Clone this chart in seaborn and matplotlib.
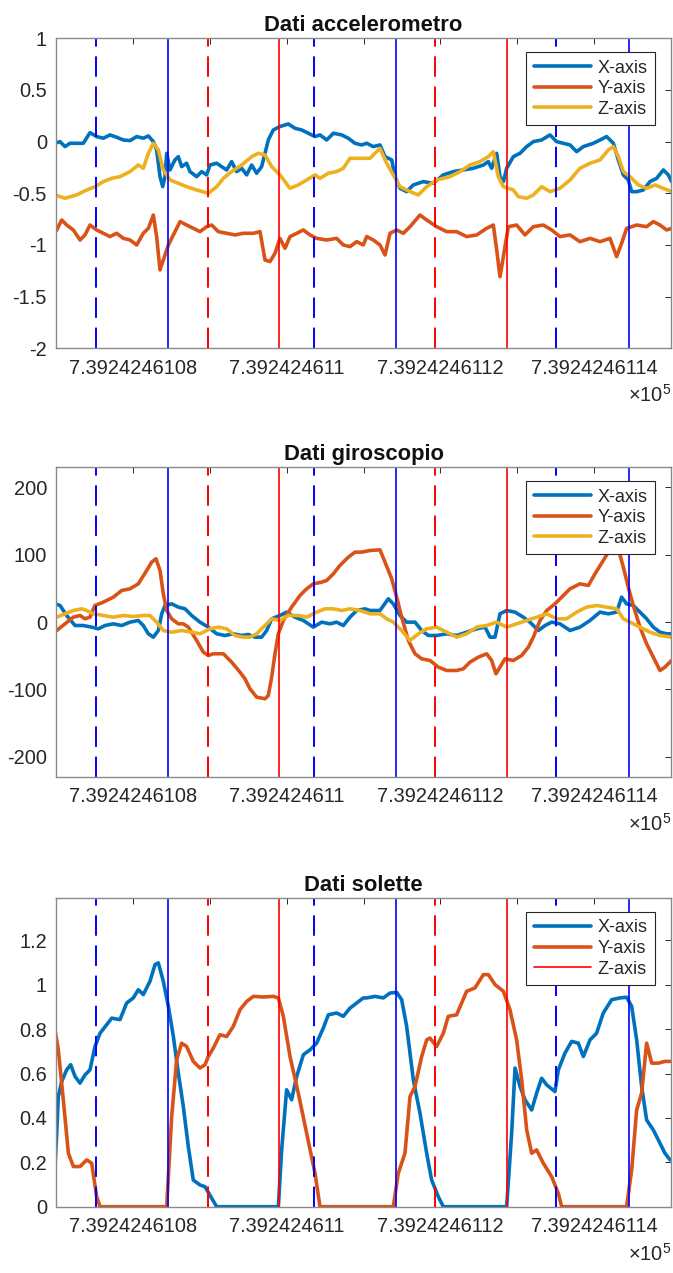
import numpy as np
import pandas as pd
import matplotlib
matplotlib.use("Agg")
import matplotlib.pyplot as plt
from matplotlib.lines import Line2D
import seaborn as sns

# ---------------------------------------------------------------------------
# Data: times are seconds after T0 (MATLAB datenum, days)
# ---------------------------------------------------------------------------
T0 = 739242.46107
SEC_PER_DAY = 86400.0
X_SPAN_S = 6.912

series_names = ["X-axis", "Y-axis", "Z-axis"]

# Accelerometer
acc_x_t = [-0.011, 0.045, 0.101, 0.157, 0.232, 0.307, 0.382, 0.457, 0.532, 0.607,
           0.682, 0.757, 0.832, 0.907, 0.981, 1.038, 1.094, 1.131, 1.169, 1.199,
           1.225, 1.244, 1.281, 1.337, 1.375, 1.412, 1.468, 1.506, 1.581, 1.637,
           1.693, 1.731, 1.806, 1.862, 1.918, 1.974, 2.030, 2.087, 2.143, 2.199,
           2.255, 2.311, 2.349, 2.386, 2.442, 2.517, 2.611, 2.686, 2.761, 2.836,
           2.911, 2.967, 3.042, 3.117, 3.210, 3.285, 3.360, 3.435, 3.492, 3.566,
           3.641, 3.698, 3.773, 3.810, 3.866, 3.941, 4.016, 4.128, 4.241, 4.353,
           4.466, 4.578, 4.690, 4.803, 4.859, 4.896, 4.953, 4.990, 5.028, 5.065,
           5.140, 5.215, 5.290, 5.365, 5.458, 5.552, 5.627, 5.702, 5.777, 5.852,
           5.927, 6.039, 6.114, 6.189, 6.264, 6.320, 6.376, 6.432, 6.470, 6.526,
           6.601, 6.676, 6.751, 6.826, 6.882, 6.919]
acc_x = [-0.016, 0.0, -0.048, -0.016, -0.016, -0.016, 0.087, 0.049, 0.033, 0.065,
         0.042, 0.016, 0.010, 0.049, 0.033, 0.055, 0.0, -0.080, -0.339, -0.435,
         -0.339, -0.113, -0.274, -0.177, -0.145, -0.242, -0.209, -0.290, -0.339, -0.290,
         -0.322, -0.226, -0.209, -0.242, -0.274, -0.193, -0.290, -0.258, -0.322, -0.226,
         -0.306, -0.242, -0.113, 0.016, 0.113, 0.146, 0.171, 0.129, 0.113, 0.081,
         0.049, 0.065, 0.016, 0.081, 0.065, 0.033, -0.016, -0.032, -0.016, -0.048,
         -0.032, -0.145, -0.177, -0.339, -0.451, -0.484, -0.419, -0.387, -0.403, -0.322,
         -0.290, -0.274, -0.258, -0.226, -0.193, -0.258, -0.113, -0.339, -0.387, -0.258,
         -0.145, -0.113, -0.048, 0.0, 0.016, 0.065, 0.0, -0.016, -0.032, -0.097,
         -0.048, -0.016, 0.016, 0.049, -0.016, -0.177, -0.322, -0.371, -0.484, -0.484,
         -0.468, -0.387, -0.355, -0.274, -0.322, -0.387]

acc_y_t = [-0.067, 0.008, 0.064, 0.120, 0.195, 0.270, 0.326, 0.382, 0.457, 0.532,
           0.607, 0.682, 0.757, 0.832, 0.907, 0.981, 1.038, 1.094, 1.131, 1.169,
           1.206, 1.263, 1.319, 1.394, 1.468, 1.543, 1.618, 1.693, 1.750, 1.824,
           1.918, 2.012, 2.105, 2.218, 2.293, 2.349, 2.405, 2.461, 2.517, 2.574,
           2.630, 2.705, 2.780, 2.855, 2.929, 3.042, 3.154, 3.229, 3.304, 3.379,
           3.454, 3.492, 3.566, 3.641, 3.698, 3.754, 3.829, 3.904, 3.979, 4.091,
           4.166, 4.278, 4.391, 4.503, 4.615, 4.728, 4.840, 4.915, 4.953, 4.990,
           5.028, 5.084, 5.177, 5.271, 5.365, 5.477, 5.571, 5.664, 5.777, 5.889,
           6.002, 6.114, 6.226, 6.301, 6.357, 6.413, 6.526, 6.638, 6.713, 6.788,
           6.863, 6.919]
acc_y = [-0.936, -0.855, -0.758, -0.807, -0.855, -0.952, -0.903, -0.807, -0.855, -0.887,
         -0.919, -0.887, -0.936, -0.952, -1.000, -0.887, -0.839, -0.710, -0.919, -1.242,
         -1.145, -1.000, -0.903, -0.774, -0.807, -0.839, -0.871, -0.823, -0.807, -0.871,
         -0.887, -0.903, -0.887, -0.887, -0.871, -1.145, -1.161, -1.081, -0.936, -1.032,
         -0.919, -0.887, -0.855, -0.903, -0.936, -0.952, -0.936, -1.000, -1.016, -0.968,
         -1.000, -0.919, -0.952, -1.000, -1.097, -0.887, -0.855, -0.887, -0.823, -0.710,
         -0.758, -0.823, -0.871, -0.871, -0.919, -0.903, -0.839, -0.807, -1.048, -1.307,
         -1.113, -0.823, -0.807, -0.903, -0.823, -0.807, -0.855, -0.919, -0.903, -0.968,
         -0.936, -0.968, -0.936, -1.113, -0.984, -0.839, -0.807, -0.823, -0.774, -0.807,
         -0.855, -0.839]

acc_z_t = [-0.067, -0.011, 0.101, 0.232, 0.345, 0.438, 0.532, 0.626, 0.719, 0.832,
           0.925, 0.981, 1.038, 1.094, 1.150, 1.206, 1.281, 1.375, 1.468, 1.581,
           1.712, 1.806, 1.881, 1.974, 2.087, 2.199, 2.274, 2.349, 2.424, 2.517,
           2.630, 2.723, 2.817, 2.911, 2.967, 3.061, 3.154, 3.229, 3.304, 3.416,
           3.529, 3.641, 3.716, 3.791, 3.866, 3.979, 4.072, 4.166, 4.278, 4.428,
           4.541, 4.653, 4.765, 4.859, 4.915, 4.971, 5.028, 5.140, 5.196, 5.290,
           5.365, 5.458, 5.552, 5.664, 5.777, 5.889, 6.002, 6.114, 6.208, 6.264,
           6.320, 6.376, 6.451, 6.545, 6.638, 6.732, 6.826, 6.919]
acc_z = [-0.436, -0.516, -0.548, -0.516, -0.468, -0.436, -0.387, -0.355, -0.339, -0.290,
         -0.226, -0.258, -0.113, -0.016, -0.080, -0.274, -0.371, -0.403, -0.436, -0.468,
         -0.500, -0.436, -0.355, -0.290, -0.226, -0.145, -0.113, -0.129, -0.242, -0.322,
         -0.452, -0.419, -0.371, -0.322, -0.355, -0.306, -0.290, -0.258, -0.161, -0.161,
         -0.161, -0.065, -0.209, -0.322, -0.436, -0.484, -0.516, -0.436, -0.371, -0.339,
         -0.290, -0.226, -0.193, -0.145, -0.097, -0.339, -0.436, -0.468, -0.532, -0.548,
         -0.516, -0.436, -0.484, -0.452, -0.371, -0.258, -0.209, -0.177, -0.080, -0.048,
         -0.145, -0.290, -0.339, -0.419, -0.452, -0.419, -0.452, -0.484]

# Gyroscope
gyr_x_t = [-0.067, -0.011, 0.045, 0.120, 0.214, 0.307, 0.401, 0.476, 0.551, 0.644,
           0.738, 0.832, 0.925, 0.981, 1.038, 1.094, 1.150, 1.188, 1.225, 1.300,
           1.375, 1.450, 1.525, 1.618, 1.712, 1.806, 1.899, 1.993, 2.087, 2.162,
           2.236, 2.311, 2.368, 2.424, 2.517, 2.592, 2.686, 2.780, 2.892, 2.986,
           3.079, 3.154, 3.229, 3.304, 3.379, 3.473, 3.529, 3.641, 3.735, 3.791,
           3.866, 3.941, 4.035, 4.110, 4.185, 4.278, 4.391, 4.503, 4.615, 4.728,
           4.822, 4.878, 4.934, 4.990, 5.065, 5.159, 5.252, 5.327, 5.421, 5.496,
           5.571, 5.664, 5.777, 5.889, 6.002, 6.114, 6.208, 6.301, 6.357, 6.413,
           6.488, 6.563, 6.638, 6.713, 6.788, 6.863, 6.919]
gyr_x = [19.8, 27.2, 24.8, 9.9, -5.0, -5.0, -7.4, -9.9, -5.0, -2.5,
         -5.0, 0.0, 2.5, -5.0, -17.3, -22.3, -12.4, 12.4, 24.8, 27.2,
         22.3, 19.8, 9.9, 0.0, -7.4, -17.3, -19.8, -17.3, -19.8, -18.3,
         -22.3, -22.3, -12.4, 5.0, 9.9, 14.9, 7.4, 2.5, -7.4, 0.0,
         -2.5, 0.0, -5.0, 7.4, 17.3, 19.8, 17.3, 17.3, 34.7, 27.2,
         9.9, 0.0, 0.0, -12.4, -19.8, -19.8, -17.3, -19.8, -14.9, -9.9,
         -7.4, -22.3, -22.3, 12.4, 17.3, 14.9, 7.4, 0.0, -12.4, -5.0,
         0.0, -2.5, -12.4, -7.4, 2.5, 14.9, 12.4, 14.9, 37.1, 27.2,
         24.8, 14.9, 5.0, -7.4, -14.9, -17.3, -17.3]

gyr_y_t = [-0.067, 0.008, 0.101, 0.195, 0.270, 0.326, 0.382, 0.438, 0.532, 0.644,
           0.738, 0.832, 0.925, 1.019, 1.075, 1.124, 1.169, 1.206, 1.244, 1.300,
           1.375, 1.431, 1.487, 1.581, 1.656, 1.712, 1.768, 1.881, 1.974, 2.068,
           2.124, 2.180, 2.255, 2.349, 2.386, 2.424, 2.461, 2.499, 2.555, 2.648,
           2.742, 2.817, 2.892, 2.986, 3.042, 3.117, 3.191, 3.285, 3.360, 3.435,
           3.529, 3.641, 3.698, 3.773, 3.829, 3.885, 3.960, 4.035, 4.110, 4.203,
           4.297, 4.391, 4.503, 4.578, 4.653, 4.746, 4.840, 4.896, 4.945, 4.990,
           5.046, 5.140, 5.234, 5.309, 5.365, 5.440, 5.515, 5.608, 5.683, 5.777,
           5.889, 5.983, 6.058, 6.151, 6.208, 6.264, 6.320, 6.376, 6.432, 6.488,
           6.563, 6.638, 6.713, 6.788, 6.844, 6.919]
gyr_y = [-14.9, -12.4, -2.5, 7.4, 9.9, 5.0, 7.4, 24.8, 29.7, 37.1,
         47.0, 49.5, 56.9, 76.7, 89.1, 94.1, 76.7, 42.1, 17.3, 5.0,
         -2.5, -2.5, -7.4, -27.2, -44.6, -49.5, -47.0, -47.0, -59.4, -74.3,
         -84.2, -99.0, -111.4, -113.8, -108.9, -81.7, -47.0, -17.3, 2.5, 22.3,
         39.6, 49.5, 56.9, 59.4, 61.9, 71.8, 84.2, 96.5, 104.0, 104.0,
         106.4, 107.4, 89.1, 64.4, 37.1, 7.4, -27.2, -47.0, -54.5, -56.9,
         -66.8, -71.8, -71.8, -69.3, -59.4, -52.0, -47.0, -56.9, -76.7, -66.8,
         -54.5, -56.9, -49.5, -37.1, -22.3, 2.5, 17.3, 27.2, 37.1, 49.5,
         56.9, 54.5, 71.8, 91.6, 104.0, 121.0, 109.0, 81.7, 52.0, 24.8,
         -7.4, -32.2, -52.0, -71.8, -66.8, -56.9]

gyr_z_t = [-0.067, 0.008, 0.101, 0.195, 0.289, 0.345, 0.420, 0.532, 0.644, 0.757,
           0.869, 0.981, 1.056, 1.131, 1.206, 1.300, 1.412, 1.525, 1.618, 1.731,
           1.824, 1.918, 2.012, 2.105, 2.180, 2.255, 2.349, 2.424, 2.517, 2.611,
           2.723, 2.817, 2.929, 3.023, 3.117, 3.210, 3.304, 3.416, 3.529, 3.641,
           3.716, 3.791, 3.885, 3.979, 4.072, 4.166, 4.278, 4.391, 4.503, 4.615,
           4.728, 4.840, 4.953, 5.065, 5.177, 5.290, 5.402, 5.515, 5.627, 5.739,
           5.852, 5.964, 6.076, 6.189, 6.301, 6.376, 6.451, 6.563, 6.676, 6.788,
           6.919]
gyr_z = [12.4, 7.4, 12.4, 17.3, 19.8, 17.3, 12.4, 9.9, 7.4, 9.9,
         8.4, 9.9, 9.9, 0.0, -12.4, -14.9, -12.4, -14.9, -17.3, -9.9,
         -7.4, -9.9, -19.8, -22.3, -22.3, -17.3, -5.0, 5.0, 2.5, 9.9,
         9.9, 7.4, 14.9, 19.8, 19.8, 17.3, 19.8, 17.3, 12.4, 12.4,
         5.0, 0.0, -12.4, -27.2, -17.3, -9.9, -7.4, -14.9, -22.3, -17.3,
         -7.4, -5.0, 0.0, -7.4, -2.5, 2.5, 7.4, 12.4, 5.0, 5.0,
         14.9, 22.3, 24.8, 22.3, 19.8, 5.0, 0.0, -7.4, -14.9, -19.8,
         -22.3]

# Insoles
sol_x_t = [-0.011, 0.008, 0.026, 0.064, 0.120, 0.165, 0.214, 0.270, 0.326, 0.382,
           0.438, 0.495, 0.569, 0.626, 0.719, 0.794, 0.869, 0.925, 0.981, 1.056,
           1.113, 1.150, 1.206, 1.263, 1.319, 1.375, 1.431, 1.487, 1.543, 1.618,
           1.675, 1.750, 1.806, 2.499, 2.536, 2.592, 2.648, 2.705, 2.780, 2.855,
           2.929, 3.004, 3.061, 3.154, 3.229, 3.304, 3.379, 3.454, 3.492, 3.585,
           3.679, 3.754, 3.829, 3.885, 3.941, 4.016, 4.091, 4.166, 4.222, 4.297,
           4.353, 5.065, 5.121, 5.159, 5.215, 5.271, 5.346, 5.402, 5.458, 5.515,
           5.608, 5.646, 5.720, 5.795, 5.870, 5.927, 6.002, 6.076, 6.151, 6.245,
           6.339, 6.413, 6.470, 6.526, 6.582, 6.638, 6.713, 6.788, 6.844, 6.901]
sol_x = [0.181, 0.331, 0.497, 0.564, 0.617, 0.640, 0.587, 0.557, 0.594, 0.617,
         0.722, 0.782, 0.820, 0.850, 0.843, 0.918, 0.941, 0.978, 0.956, 1.016,
         1.091, 1.099, 1.016, 0.903, 0.767, 0.602, 0.451, 0.271, 0.120, 0.098,
         0.090, 0.038, 0.0, 0.0, 0.256, 0.527, 0.482, 0.587, 0.685, 0.707,
         0.737, 0.805, 0.865, 0.873, 0.858, 0.895, 0.918, 0.941, 0.941, 0.948,
         0.941, 0.963, 0.966, 0.933, 0.813, 0.572, 0.421, 0.241, 0.120, 0.045,
         0.0, 0.0, 0.331, 0.625, 0.542, 0.482, 0.436, 0.512, 0.579, 0.549,
         0.519, 0.617, 0.692, 0.745, 0.737, 0.677, 0.752, 0.782, 0.873, 0.933,
         0.941, 0.944, 0.903, 0.752, 0.542, 0.391, 0.346, 0.286, 0.241, 0.211]

sol_y_t = [-0.030, 0.026, 0.082, 0.139, 0.195, 0.270, 0.345, 0.401, 0.457, 0.495,
           1.244, 1.300, 1.356, 1.412, 1.468, 1.543, 1.618, 1.675, 1.712, 1.768,
           1.843, 1.918, 1.993, 2.068, 2.143, 2.218, 2.330, 2.442, 2.499, 2.555,
           2.630, 2.723, 2.817, 2.911, 2.967, 3.791, 3.847, 3.922, 3.979, 4.035,
           4.110, 4.166, 4.203, 4.278, 4.353, 4.409, 4.503, 4.615, 4.709, 4.803,
           4.859, 4.934, 5.028, 5.102, 5.177, 5.234, 5.290, 5.346, 5.402, 5.477,
           5.571, 5.646, 5.683, 6.413, 6.470, 6.526, 6.582, 6.638, 6.695, 6.770,
           6.844, 6.901]
sol_y = [0.843, 0.707, 0.482, 0.241, 0.181, 0.181, 0.211, 0.196, 0.045, 0.0,
         0.0, 0.406, 0.662, 0.737, 0.722, 0.655, 0.625, 0.640, 0.677, 0.715,
         0.775, 0.767, 0.813, 0.888, 0.925, 0.948, 0.945, 0.948, 0.941, 0.858,
         0.677, 0.512, 0.331, 0.151, 0.0, 0.0, 0.151, 0.241, 0.497, 0.542,
         0.677, 0.752, 0.760, 0.722, 0.782, 0.858, 0.865, 0.971, 0.986, 1.046,
         1.046, 1.001, 0.971, 0.888, 0.752, 0.572, 0.346, 0.241, 0.256, 0.196,
         0.135, 0.060, 0.0, 0.0, 0.166, 0.436, 0.512, 0.737, 0.647, 0.647,
         0.655, 0.655]

# Gait event markers (seconds after T0)
ev_blue_dashed = [0.446, 2.903, 5.616]
ev_blue_solid = [1.259, 3.821, 6.437]
ev_red_dashed = [1.708, 4.263]
ev_red_solid = [2.503, 5.072]

# Axis ticks
xtick_values = [739242.46108, 739242.46109, 739242.46110, 739242.46111,
                739242.46112, 739242.46113, 739242.46114]
xtick_labels = ["7.3924246108", "", "7.392424611", "", "7.3924246112", "", "7.3924246114"]

acc_yticks = [-2, -1.5, -1, -0.5, 0, 0.5, 1]
acc_yticklabels = ["-2", "-1.5", "-1", "-0.5", "0", "0.5", "1"]
gyr_yticks = [-200, -100, 0, 100, 200]
gyr_yticklabels = ["-200", "-100", "0", "100", "200"]
sol_yticks = [0, 0.2, 0.4, 0.6, 0.8, 1.0, 1.2]
sol_yticklabels = ["0", "0.2", "0.4", "0.6", "0.8", "1", "1.2"]

titles = ["Dati accelerometro", "Dati giroscopio", "Dati solette"]

# ---------------------------------------------------------------------------
# Style
# ---------------------------------------------------------------------------
sns.set_style("white")
plt.rcParams["font.family"] = ["Liberation Sans", "DejaVu Sans"]
plt.rcParams["mathtext.fontset"] = "custom"
plt.rcParams["mathtext.rm"] = "Liberation Sans"
plt.rcParams["mathtext.it"] = "Liberation Sans:italic"
plt.rcParams["mathtext.bf"] = "Liberation Sans:bold"
plt.rcParams["axes.unicode_minus"] = False

palette = {"X-axis": "#0072BD", "Y-axis": "#D95319", "Z-axis": "#EDB120"}
TEXT = "#262626"
TICK_FS = 14.4
LEGEND_FS = 13.0
TITLE_FS = 15.8
DATA_LW = 2.6


def to_datenum(seconds):
    return T0 + np.asarray(seconds, dtype=float) / SEC_PER_DAY


def long_frame(pairs):
    frames = []
    for name, t, v in pairs:
        frames.append(pd.DataFrame({"time": to_datenum(t), "value": v, "axis": name}))
    return pd.concat(frames, ignore_index=True)


def draw_panel(ax, pairs, title, ylim, yticks, yticklabels, third_from_marker=False):
    df = long_frame(pairs)
    order = [p[0] for p in pairs]
    sns.lineplot(data=df, x="time", y="value", hue="axis", hue_order=order,
                 palette=palette, linewidth=DATA_LW, estimator=None, sort=True,
                 legend=False, ax=ax)
    data_lines = list(ax.get_lines())

    dash = (0, (10.5, 5.0))
    red_solid_handles = []
    for t in ev_blue_dashed:
        ax.axvline(to_datenum(t), color="#0000FF", lw=1.4, ls=dash)
    for t in ev_blue_solid:
        ax.axvline(to_datenum(t), color="#0000FF", lw=1.2)
    for t in ev_red_dashed:
        ax.axvline(to_datenum(t), color="#FF0000", lw=1.4, ls=dash)
    for t in ev_red_solid:
        red_solid_handles.append(ax.axvline(to_datenum(t), color="#FF0000", lw=1.2))

    ax.set_xlim(T0, T0 + X_SPAN_S / SEC_PER_DAY)
    ax.set_ylim(*ylim)
    ax.set_xticks(xtick_values)
    ax.set_xticklabels(xtick_labels)
    ax.set_yticks(yticks)
    ax.set_yticklabels(yticklabels)
    ax.set_xlabel("")
    ax.set_ylabel("")
    ax.tick_params(axis="both", direction="in", length=4.5, width=0.7,
                   color=TEXT, labelcolor=TEXT, labelsize=TICK_FS,
                   top=True, right=True)
    ax.tick_params(axis="x", pad=7.5)
    ax.tick_params(axis="y", pad=6.5)
    for s in ax.spines.values():
        s.set_color("#8a8a8a")
        s.set_linewidth(1.0)
        s.set_visible(True)
    ax.set_title(title, fontsize=TITLE_FS, fontweight="bold", color="#111111", pad=5)

    handles = data_lines[:]
    labels = list(order)
    if third_from_marker:
        handles.append(red_solid_handles[0])
        labels.append("Z-axis")
    leg = ax.legend(handles, labels, loc="upper right",
                    bbox_to_anchor=(1 - 16 / 615, 1 - 14 / 310), borderaxespad=0,
                    fontsize=LEGEND_FS, handlelength=3.2, handletextpad=0.35,
                    labelspacing=0.2, borderpad=0.4, frameon=True, fancybox=False,
                    framealpha=1.0)
    leg.get_frame().set_edgecolor(TEXT)
    leg.get_frame().set_linewidth(0.8)
    for txt in leg.get_texts():
        txt.set_color(TEXT)

    ax.text(1.0, -47 / 310, "×10$^{5}$", transform=ax.transAxes, ha="right",
            va="center", fontsize=TICK_FS, color=TEXT)


fig = plt.figure(figsize=(6.73, 12.73), dpi=100)
W, H = 673.0, 1273.0
rects = [
    (56 / W, 1 - 348.3 / H, 615 / W, 310 / H),
    (56 / W, 1 - 777.0 / H, 615 / W, 309.7 / H),
    (56 / W, 1 - 1206.7 / H, 615 / W, 308.4 / H),
]
axes = [fig.add_axes(r) for r in rects]

draw_panel(axes[0],
           [("X-axis", acc_x_t, acc_x), ("Y-axis", acc_y_t, acc_y), ("Z-axis", acc_z_t, acc_z)],
           titles[0], (-2, 1), acc_yticks, acc_yticklabels)
draw_panel(axes[1],
           [("X-axis", gyr_x_t, gyr_x), ("Y-axis", gyr_y_t, gyr_y), ("Z-axis", gyr_z_t, gyr_z)],
           titles[1], (-230, 230), gyr_yticks, gyr_yticklabels)
draw_panel(axes[2],
           [("X-axis", sol_x_t, sol_x), ("Y-axis", sol_y_t, sol_y)],
           titles[2], (0, 1.39), sol_yticks, sol_yticklabels, third_from_marker=True)

fig.savefig("out.png", dpi=100, facecolor="white")
